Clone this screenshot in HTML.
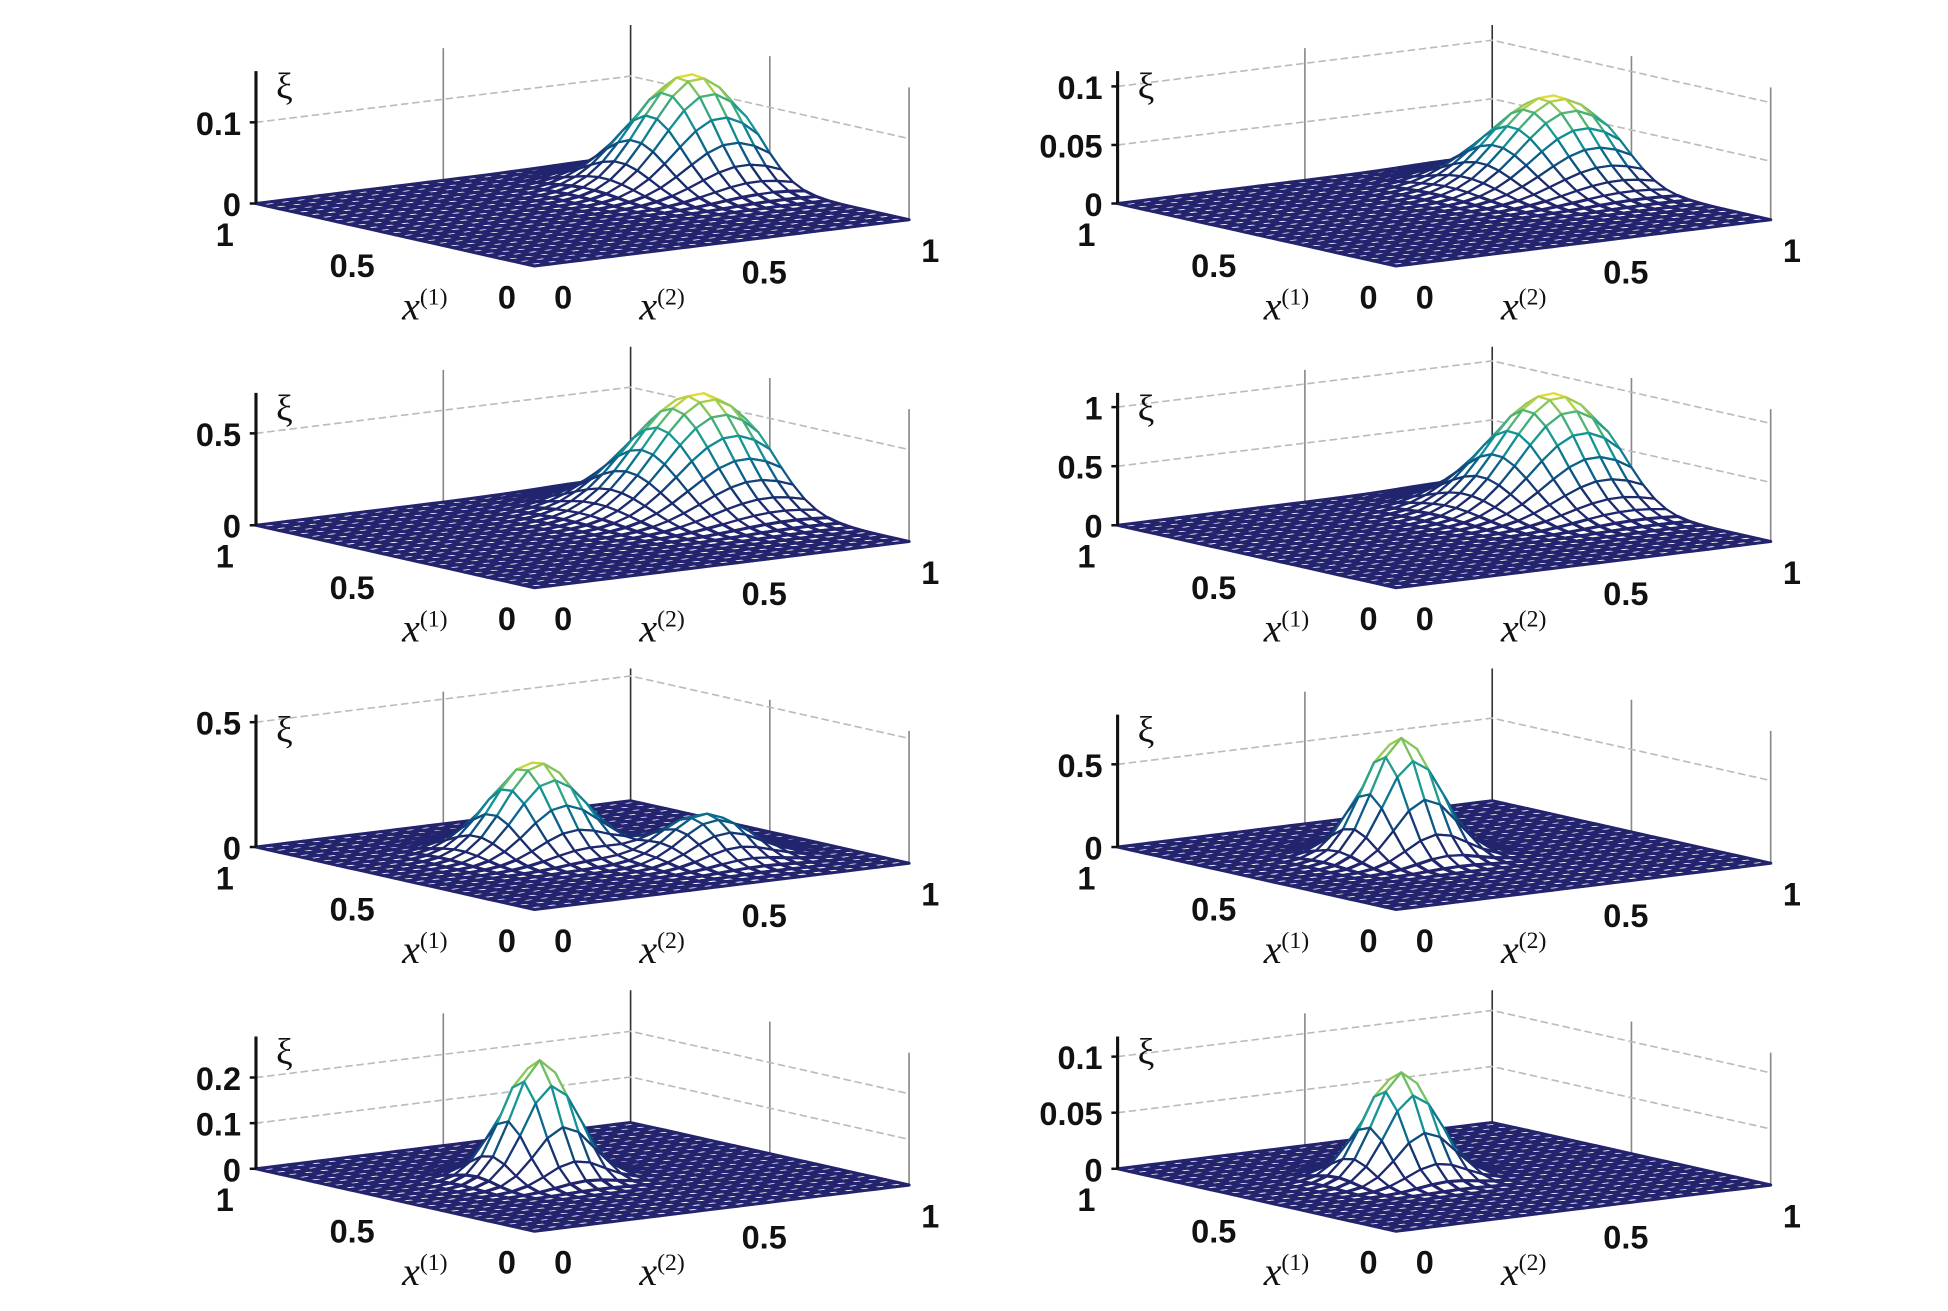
<!DOCTYPE html>
<html><head><meta charset="utf-8">
<style>
html,body{margin:0;padding:0;background:#fff;}
svg{display:block;}
.tk{font-family:"Liberation Sans",sans-serif;font-size:26px;font-weight:bold;fill:#111;}
.lb{font-family:"Liberation Serif",serif;font-style:italic;font-size:32px;fill:#111;}
.sup{font-family:"Liberation Serif",serif;font-size:19px;font-style:normal;fill:#111;}
.xi{font-family:"Liberation Serif",serif;font-size:30px;fill:#111;}
</style></head>
<body>
<svg id="fig" width="1948" height="1311" viewBox="0 0 1560 1050" preserveAspectRatio="none" xmlns="http://www.w3.org/2000/svg"></svg>
<script>
// panel data (one entry per subplot)
const panelNames = ['p1','p2','p3','p4','p5','p6','p7','p8'];
const zTicks = [[0,0.1],[0,0.05,0.1],[0,0.5],[0,0.5,1],[0,0.5],[0,0.5],[0,0.1,0.2],[0,0.05,0.1]];
const zTickLabels = [['0','0.1'],['0','0.05','0.1'],['0','0.5'],['0','0.5','1'],['0','0.5'],['0','0.5'],['0','0.1','0.2'],['0','0.05','0.1']];
const zMax = [0.163,0.113,0.72,1.12,0.53,0.80,0.29,0.118];
// gaussian bumps per panel: amplitude, centre x1, centre x2, width
const peakAmp = [[0.135],[0.075],[0.62],[0.95],[0.36,0.17],[0.72],[0.26],[0.095]];
const peakX1 = [[0.65],[0.65],[0.62],[0.65],[0.6,0.33],[0.55],[0.55],[0.55]];
const peakX2 = [[0.9],[0.9],[0.9],[0.9],[0.45,0.7],[0.42],[0.42],[0.42]];
const peakW = [[0.12],[0.13],[0.14],[0.13],[0.095,0.09],[0.08],[0.075],[0.075]];

const NS='http://www.w3.org/2000/svg';
const svg=document.getElementById('fig');
function mk(tag,attrs,parent){const e=document.createElementNS(NS,tag);for(const k in attrs)e.setAttribute(k,attrs[k]);(parent||svg).appendChild(e);return e;}
const N=25;
const stops=[[35,35,110],[25,45,110],[10,100,140],[20,150,150],[90,185,110],[245,225,40]];
function cmap(t){t=Math.max(0,Math.min(1,t));const s=t*(stops.length-1);const i=Math.min(Math.floor(s),stops.length-2);const f=s-i;const a=stops[i],b=stops[i+1];return 'rgb('+a.map((v,k)=>Math.round(v+(b[k]-v)*f)).join(',')+')';}

panelNames.forEach((nm,p)=>{
  const col=p%2,row=Math.floor(p/2);
  const ox=col*690, oy=row*257.7;
  const F=[428+ox,213+oy],L=[205+ox,163+oy],R=[728+ox,176+oy];
  const H=106; const sc=H/zMax[p];
  const g=mk('g',{});
  
  
  const proj=(u,v,z)=>[F[0]+u*(L[0]-F[0])+v*(R[0]-F[0]), F[1]+u*(L[1]-F[1])+v*(R[1]-F[1])-z*sc];
  const grid=mk('g',{stroke:'#bbb','stroke-width':1.3,fill:'none','stroke-dasharray':'6 3'},g);
  
  
  [[1,0.5],[1,1],[0.5,1],[0,1]].forEach(([u,v])=>{const a=proj(u,v,0),b=proj(u,v,zMax[p]);mk('line',{x1:a[0],y1:a[1],x2:b[0],y2:b[1],stroke:(u==1&&v==1)?'#333':'#888','stroke-dasharray':'none'},grid);});
  zTicks[p].forEach(z=>{if(z===0)return;const a=proj(1,0,z),b=proj(1,1,z),c=proj(0,1,z);mk('polyline',{points:[a,b,c].map(q=>q.join(',')).join(' ')},grid);});
  const Z=(u,v)=>{let s=0;peakAmp[p].forEach((A,k)=>{const du=u-peakX1[p][k],dv=v-peakX2[p][k];s+=A*Math.exp(-(du*du+dv*dv)/(2*peakW[p][k]*peakW[p][k]));});return s;};
  const amax=Math.max(...peakAmp[p]);
  const quads=[];
  for(let i=0;i<N-1;i++)for(let j=0;j<N-1;j++)quads.push([i,j]);
  quads.sort((a,b)=>(b[0]+b[1])-(a[0]+a[1]));
  const surf=mk('g',{'stroke-linejoin':'round'},g);
  
  
  quads.forEach(([i,j])=>{
    const u0=i/(N-1),u1=(i+1)/(N-1),v0=j/(N-1),v1=(j+1)/(N-1);
    const zs=[Z(u0,v0),Z(u1,v0),Z(u1,v1),Z(u0,v1)];
    const pts=[proj(u0,v0,zs[0]),proj(u1,v0,zs[1]),proj(u1,v1,zs[2]),proj(u0,v1,zs[3])];
    const zm=(zs[0]+zs[1]+zs[2]+zs[3])/4/amax;
    mk('polygon',{points:pts.map(q=>q[0].toFixed(1)+','+q[1].toFixed(1)).join(' '),fill:'#fff',stroke:cmap(zm),'stroke-width':zm>0.05?1.8:2.5},surf);
  });
  const z0=proj(1,0,0),zt=proj(1,0,zMax[p]);
  const ax=mk('line',{x1:z0[0],y1:z0[1],x2:zt[0],y2:zt[1],stroke:'#111','stroke-width':2.5},g);
  
  
  zTicks[p].forEach((z,k)=>{const q=proj(1,0,z);
    const t=mk('text',{x:q[0]-12,y:q[1]+10,'text-anchor':'end',class:'tk'},g);t.textContent=zTickLabels[p][k];
    
    
    mk('line',{x1:q[0]-5,y1:q[1],x2:q[0],y2:q[1],stroke:'#111','stroke-width':2},g);});
  const xi=mk('text',{x:zt[0]+16,y:zt[1]+22,class:'xi'},g);xi.textContent='ξ';
  
  
  const x1t=[['1',180,197],['0.5',282,222],['0',406,247]];
  x1t.forEach(([s,x,y])=>{const t=mk('text',{x:x+ox,y:y+oy,'text-anchor':'middle',class:'tk'},g);t.textContent=s;
    
    });
  const x2t=[['0',451,247],['0.5',612,227],['1',745,210]];
  x2t.forEach(([s,x,y])=>{const t=mk('text',{x:x+ox,y:y+oy,'text-anchor':'middle',class:'tk'},g);t.textContent=s;
    
    });
  [['1',322],['2',512]].forEach(([s,x])=>{const t=mk('text',{x:x+ox,y:256+oy,class:'lb'},g);
    t.innerHTML='x<tspan class="sup" dy="-12">('+s+')</tspan>';
    
    });
});
</script>
</body></html>
